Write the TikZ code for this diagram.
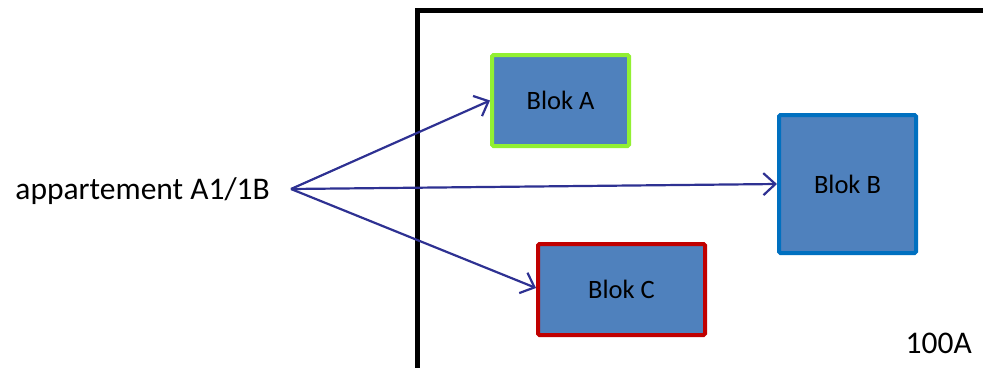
\documentclass[tikz,border=0pt]{standalone}
\usepackage{fontspec}
\setmainfont{Carlito}
\usetikzlibrary{arrows.meta}
\definecolor{blokfill}{RGB}{79,129,189}
\definecolor{greenb}{RGB}{146,240,50}
\definecolor{blueb}{RGB}{0,112,192}
\definecolor{redb}{RGB}{192,0,0}
\definecolor{arrowc}{RGB}{46,49,146}
\tikzset{
  blok/.style={draw, fill=blokfill, line width=4pt, rounded corners=1.5pt, inner sep=0pt,
    font=\fontsize{26.5}{30}\selectfont, text=black},
  conn/.style={draw=arrowc, line width=2.2pt, -{Straight Barb[length=12pt, width=22pt, line width=2.2pt]}},
  lbl/.style={inner sep=0pt, font=\fontsize{31.5}{36}\selectfont, text=black},
}
\begin{document}
\begin{tikzpicture}[x=1pt, y=-1pt]
\useasboundingbox (0,0) rectangle (983,367);
% frame
\draw[line width=5pt] (417,370) -- (417,10) -- (986,10);
% blocks
\node[blok, draw=greenb, minimum width=137pt, minimum height=91pt] (A) at (560.5,100.5) {Blok A};
\node[blok, draw=blueb, minimum width=137pt, minimum height=138pt] (B) at (847.5,184) {Blok B};
\node[blok, draw=redb, minimum width=167pt, minimum height=91pt] (C) at (621.5,289.5) {Blok C};
% labels
\node[lbl, anchor=east] (apt) at (270,191) {appartement A1/1B};
\node[lbl, anchor=east] (lbl100) at (972,343) {100A};
\coordinate (o) at (291,189);
% connectors
\draw[conn] (o) -- (A.west);
\draw[conn] (o) -- (B.west);
\draw[conn] (o) -- ([yshift=1.5pt]C.west);
\end{tikzpicture}
\end{document}
